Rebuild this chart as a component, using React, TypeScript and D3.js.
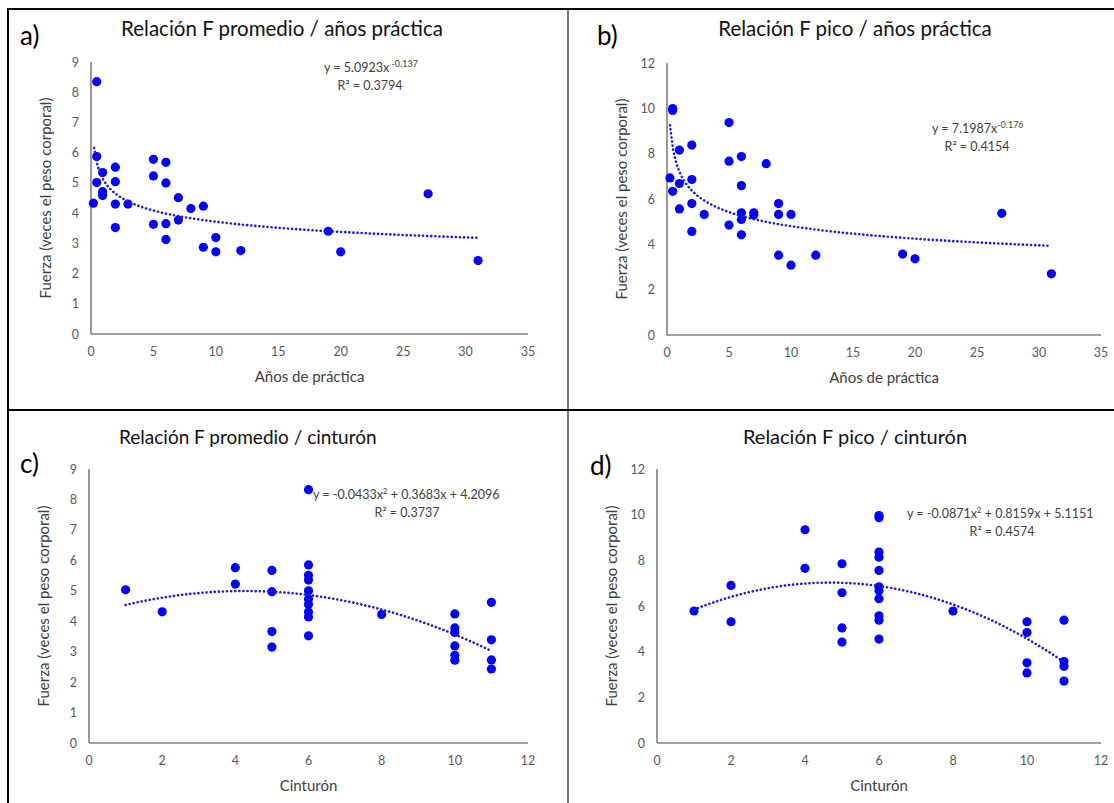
import React from "react";
import * as d3 from "d3";

// ---------- DATA ----------
const aYears = [0.46, 0.46, 0.93, 0.46, 0.93, 0.93, 0.19, 1.95, 1.95, 1.95, 1.95, 2.96, 5, 5, 5, 6, 6, 6, 6, 7, 7, 8, 9, 9, 10, 10, 12, 19, 20, 27, 31];
const aForce = [8.35, 5.87, 5.34, 5.01, 4.71, 4.58, 4.33, 5.52, 5.04, 4.3, 3.52, 4.3, 5.78, 5.23, 3.63, 5.68, 5.0, 3.65, 3.13, 4.51, 3.77, 4.15, 4.23, 2.87, 3.19, 2.72, 2.76, 3.4, 2.72, 4.64, 2.43];

const bYears = [0.46, 0.46, 0.24, 0.46, 1, 1, 1, 2, 2, 2, 2, 3, 5, 5, 5, 6, 6, 6, 6, 6, 7, 7, 8, 9, 9, 9, 10, 10, 12, 19, 20, 27, 31];
const bForce = [9.99, 9.91, 6.93, 6.34, 8.16, 6.68, 5.56, 8.38, 6.86, 5.8, 4.57, 5.32, 9.37, 7.67, 4.85, 7.87, 6.59, 5.39, 5.1, 4.42, 5.39, 5.29, 7.56, 5.8, 5.32, 3.52, 5.32, 3.08, 3.52, 3.57, 3.36, 5.37, 2.7];

const cBelt = [1, 2, 4, 4, 5, 5, 5, 5, 6, 6, 6, 6, 6, 6, 6, 6, 6, 6, 8, 10, 10, 10, 10, 10, 10, 11, 11, 11, 11];
const cForce = [5.03, 4.31, 5.76, 5.22, 5.67, 4.97, 3.66, 3.15, 8.32, 5.85, 5.51, 5.35, 5.0, 4.73, 4.56, 4.3, 4.14, 3.52, 4.22, 4.24, 3.78, 3.63, 3.19, 2.88, 2.72, 4.62, 3.39, 2.73, 2.43];

const dBelt = [1, 2, 2, 4, 4, 5, 5, 5, 5, 6, 6, 6, 6, 6, 6, 6, 6, 6, 6, 6, 8, 10, 10, 10, 10, 11, 11, 11, 11];
const dForce = [5.78, 6.9, 5.31, 9.34, 7.65, 7.85, 6.58, 5.04, 4.42, 9.96, 9.87, 8.36, 8.14, 7.56, 6.84, 6.67, 6.32, 5.57, 5.38, 4.55, 5.78, 5.31, 4.84, 3.51, 3.07, 5.38, 3.57, 3.36, 2.71];

// trend-line coefficients (as printed)
const aPow = { a: 5.0923, b: -0.137 };
const bPow = { a: 7.1987, b: -0.176 };
const cPoly = [-0.0433, 0.3683, 4.2096];
const dPoly = [-0.0871, 0.8159, 5.1151];

const yearTicks = [0, 5, 10, 15, 20, 25, 30, 35];
const beltTicks = [0, 2, 4, 6, 8, 10, 12];
const promTicks = [0, 1, 2, 3, 4, 5, 6, 7, 8, 9];
const picoTicks = [0, 2, 4, 6, 8, 10, 12];

const titles = [
  "Relación F promedio / años práctica",
  "Relación F pico / años práctica",
  "Relación F promedio / cinturón",
  "Relación F pico / cinturón",
];
const letters = ["a)", "b)", "c)", "d)"];
const yTitle = "Fuerza (veces el peso corporal)";
const xTitles = ["Años de práctica", "Años de práctica", "Cinturón", "Cinturón"];

const FONT = "Lato, 'Open Sans', sans-serif";
const BLUE = "#0000ff";

type PanelProps = {
  x0: number; x1: number; yb: number; yt: number;
  xDom: [number, number]; yDom: [number, number];
  xTicks: number[]; yTicks: number[];
  xs: number[]; ys: number[];
  fit: (x: number) => number; fitRange: [number, number];
  title: string; titleX: number; titleY: number; titleSize: number; titleAnchor: string;
  letter: string; letterX: number; letterY: number;
  xTitle: string;
  eq: React.ReactNode; r2: string; eqX: number; eqY: number; r2X: number;
};

function Panel(p: PanelProps) {
  const x = d3.scaleLinear().domain(p.xDom).range([p.x0, p.x1]);
  const y = d3.scaleLinear().domain(p.yDom).range([p.yb, p.yt]);
  const n = 120;
  const pts: [number, number][] = d3.range(n + 1).map((i) => {
    const xv = p.fitRange[0] + ((p.fitRange[1] - p.fitRange[0]) * i) / n;
    return [x(xv), y(p.fit(xv))];
  });
  const line = d3.line()(pts) || "";
  return (
    <g fontFamily={FONT}>
      <text x={p.letterX} y={p.letterY} fontSize={26} fill="#000">{p.letter}</text>
      <text x={p.titleX} y={p.titleY} fontSize={p.titleSize} textAnchor={p.titleAnchor} fill="#111">{p.title}</text>
      {/* axes */}
      <line x1={p.x0} x2={p.x1} y1={p.yb} y2={p.yb} stroke="#7f7f7f" strokeWidth={1.6} />
      <line x1={p.x0} x2={p.x0} y1={p.yb} y2={p.yt} stroke="#7f7f7f" strokeWidth={1.6} />
      {p.xTicks.map((t) => (
        <text key={"x" + t} x={x(t)} y={p.yb + 22} fontSize={12.5} textAnchor="middle" fill="#595959">{t}</text>
      ))}
      {p.yTicks.map((t) => (
        <text key={"y" + t} x={p.x0 - 12} y={y(t) + 4.5} fontSize={12.5} textAnchor="end" fill="#595959">{t}</text>
      ))}
      <text x={(p.x0 + p.x1) / 2} y={p.yb + 48} fontSize={15} textAnchor="middle" fill="#404040">{p.xTitle}</text>
      <text transform={`translate(${p.x0 - 40},${(p.yb + p.yt) / 2}) rotate(-90)`} fontSize={15} textAnchor="middle" fill="#404040">{yTitle}</text>
      {/* points */}
      {p.xs.map((xv, i) => (
        <circle key={i} cx={x(xv)} cy={y(p.ys[i])} r={4.6} fill={BLUE} />
      ))}
      {/* trendline */}
      <path d={line} fill="none" stroke="#1f1fd0" strokeWidth={2.6} strokeDasharray="0.1 4" strokeLinecap="round" />
      <text x={p.eqX} y={p.eqY} fontSize={12.5} fill="#404040">{p.eq}</text>
      <text x={p.r2X} y={p.eqY + 18} fontSize={12.5} textAnchor="middle" fill="#404040">{p.r2}</text>
    </g>
  );
}

const powFn = (c: { a: number; b: number }) => (v: number) => c.a * Math.pow(v, c.b);
const polyFn = (c: number[]) => (v: number) => c[0] * v * v + c[1] * v + c[2];

export default function App() {
  return (
    <svg width={1114} height={803} style={{ position: "absolute", left: 0, top: 0, background: "#fff" }}>
      <rect width={1114} height={803} fill="#fff" />
      {/* frame */}
      <line x1={8} x2={8} y1={8} y2={803} stroke="#000" strokeWidth={2} />
      <line x1={8} x2={1114} y1={9} y2={9} stroke="#000" strokeWidth={2} />
      <line x1={568} x2={568} y1={9} y2={803} stroke="#555" strokeWidth={1.6} />
      <line x1={8} x2={1114} y1={410} y2={410} stroke="#000" strokeWidth={1.8} />

      <Panel x0={91} x1={528} yb={334} yt={62} xDom={[0, 35]} yDom={[0, 9]}
        xTicks={yearTicks} yTicks={promTicks} xs={aYears} ys={aForce}
        fit={powFn(aPow)} fitRange={[0.25, 31]}
        title={titles[0]} titleX={282} titleY={36} titleSize={20.5} titleAnchor="middle"
        letter={letters[0]} letterX={20} letterY={45}
        xTitle={xTitles[0]}
        eq={<>y = 5.0923x<tspan dy={-5} fontSize={9}> -0.137</tspan></>} r2="R² = 0.3794"
        eqX={324} eqY={72} r2X={370} />
      <Panel x0={667} x1={1101} yb={335} yt={63} xDom={[0, 35]} yDom={[0, 12]}
        xTicks={yearTicks} yTicks={picoTicks} xs={bYears} ys={bForce}
        fit={powFn(bPow)} fitRange={[0.24, 31]}
        title={titles[1]} titleX={855} titleY={36} titleSize={20.5} titleAnchor="middle"
        letter={letters[1]} letterX={597} letterY={45}
        xTitle={xTitles[1]}
        eq={<>y = 7.1987x<tspan dy={-5} fontSize={9}>-0.176</tspan></>} r2="R² = 0.4154"
        eqX={932} eqY={133} r2X={977} />
      <Panel x0={89} x1={528} yb={743} yt={469} xDom={[0, 12]} yDom={[0, 9]}
        xTicks={beltTicks} yTicks={promTicks} xs={cBelt} ys={cForce}
        fit={polyFn(cPoly)} fitRange={[1, 11]}
        title={titles[2]} titleX={119} titleY={444} titleSize={19} titleAnchor="start"
        letter={letters[2]} letterX={20} letterY={473}
        xTitle={xTitles[2]}
        eq={<>y = -0.0433x<tspan dy={-5} fontSize={8}>2</tspan><tspan dy={5}> + 0.3683x + 4.2096</tspan></>} r2="R² = 0.3737"
        eqX={313} eqY={499} r2X={407} />
      <Panel x0={657} x1={1101} yb={743} yt={469} xDom={[0, 12]} yDom={[0, 12]}
        xTicks={beltTicks} yTicks={picoTicks} xs={dBelt} ys={dForce}
        fit={polyFn(dPoly)} fitRange={[1, 11]}
        title={titles[3]} titleX={855} titleY={444} titleSize={20} titleAnchor="middle"
        letter={letters[3]} letterX={590} letterY={475}
        xTitle={xTitles[3]}
        eq={<>y = -0.0871x<tspan dy={-5} fontSize={8}>2</tspan><tspan dy={5}> + 0.8159x + 5.1151</tspan></>} r2="R² = 0.4574"
        eqX={907} eqY={518} r2X={1002} />
    </svg>
  );
}
